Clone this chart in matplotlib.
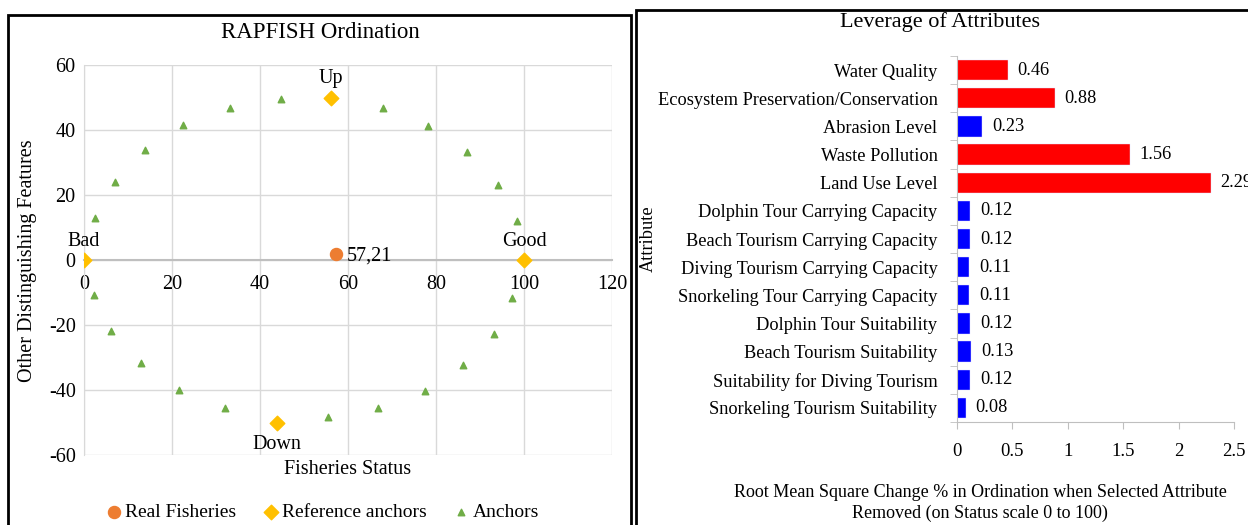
import matplotlib
matplotlib.use("Agg")
import matplotlib.pyplot as plt
from matplotlib.patches import Rectangle

plt.rcParams['font.family'] = ['Liberation Serif', 'DejaVu Serif']

# ordination data
anchor_x = [2.5, 7.0, 13.8, 22.6, 33.1, 44.7, 67.9, 78.2, 87.1, 94.0, 98.3,
            97.3, 93.1, 86.2, 77.4, 66.8, 55.4, 32.0, 21.7, 13.0, 6.2, 2.2]
anchor_y = [12.8, 24.0, 33.7, 41.6, 46.9, 49.6, 46.7, 41.2, 33.2, 23.1, 12.0,
            -11.8, -22.7, -32.4, -40.3, -45.6, -48.4, -45.4, -40.0, -31.8, -21.9, -10.8]
ref_x = [0, 100, 56.2, 43.8]
ref_y = [0, 0, 50, -50]
ref_names = ["Bad", "Good", "Up", "Down"]
real_x = [57.21]
real_y = [2.0]
real_label = "57,21"

# leverage data
attributes = ["Water Quality", "Ecosystem Preservation/Conservation", "Abrasion Level",
              "Waste Pollution", "Land Use Level", "Dolphin Tour Carrying Capacity",
              "Beach Tourism Carrying Capacity", "Diving Tourism Carrying Capacity",
              "Snorkeling Tour Carrying Capacity", "Dolphin Tour Suitability",
              "Beach Tourism Suitability", "Suitability for Diving Tourism",
              "Snorkeling Tourism Suitability"]
leverage = [0.46, 0.88, 0.23, 1.56, 2.29, 0.12, 0.12, 0.11, 0.11, 0.12, 0.13, 0.12, 0.08]
sensitive = [True, True, False, True, True, False, False, False, False, False, False, False, False]

fig = plt.figure(figsize=(12.48, 5.25), dpi=100)

# panel frames
fig.add_artist(Rectangle((8/1248, -0.02), 623/1248, 1.02 - 15/525, transform=fig.transFigure,
                         fill=False, edgecolor='black', linewidth=2))
fig.add_artist(Rectangle((636/1248, -0.02), 0.6, 1.02 - 10/525, transform=fig.transFigure,
                         fill=False, edgecolor='black', linewidth=2))

##left: ordination##
ax1 = fig.add_axes([84/1248, 1-455/525, 528/1248, 390/525])
ax1.scatter(real_x, real_y, s=75, c='#ED7D31', marker='o', label='Real Fisheries', zorder=4)
ax1.scatter(ref_x, ref_y, s=55, c='#FFC000', marker='D', label='Reference anchors', zorder=4)
ax1.scatter(anchor_x, anchor_y, s=22, c='#70AD47', marker='^', label='Anchors', zorder=4)
ax1.set_xlim(0, 120)
ax1.set_ylim(-60, 60)
ax1.set_xticks(range(0, 121, 20))
ax1.set_yticks(range(-60, 61, 20))
ax1.set_yticklabels([str(v) for v in range(-60, 61, 20)])
ax1.grid(True, color='#D9D9D9', linewidth=1)
ax1.set_axisbelow(True)
for s in ['top', 'right']:
    ax1.spines[s].set_visible(False)
ax1.spines['bottom'].set_position(('data', 0))
ax1.spines['bottom'].set_color('#BFBFBF')
ax1.spines['bottom'].set_linewidth(1.5)
ax1.spines['left'].set_color('#D9D9D9')
ax1.tick_params(length=0, labelsize=14.5, pad=6)
ax1.tick_params(axis='x', pad=11)
fig.text(320/1248, 1-32/525, "RAPFISH Ordination", fontsize=16.5, ha='center', va='center')
fig.text(348/1248, 1-469/525, "Fisheries Status", fontsize=14.5, ha='center', va='center')
fig.text(28/1248, 1-261/525, "Other Distinguishing Features", fontsize=14.5, rotation=90,
         ha='center', va='center')
ax1.annotate(real_label, (real_x[0], real_y[0]), xytext=(8, -2), textcoords='offset points',
             fontsize=14.5, va='center', ha='left')
label_off = {"Bad": (0, 13), "Good": (0, 13), "Up": (0, 14), "Down": (0, -16)}
for nx, ny, nm in zip(ref_x, ref_y, ref_names):
    ax1.annotate(nm, (nx, ny), xytext=label_off[nm], textcoords='offset points',
                 fontsize=14.5, ha='center', va='center')
fig.legend(*ax1.get_legend_handles_labels(), loc='center', bbox_to_anchor=(323/1248, 1-512/525),
           ncol=3, frameon=False, fontsize=14, handlelength=0.7, handletextpad=0.25,
           columnspacing=1.4, borderpad=0, borderaxespad=0)

##right: leverage##
ax2 = fig.add_axes([957/1248, 1-422/525, 277/1248, 366/525])
ypos = list(range(len(attributes)))
cols = ['#FF0000' if s else '#0000FF' for s in sensitive]
ax2.barh(ypos, leverage, height=0.72, color=cols, edgecolor='#E0E0FF', linewidth=0.3)
ax2.set_ylim(len(attributes) - 0.5, -0.5)
ax2.set_xlim(0, 2.5)
ax2.set_yticks(ypos)
ax2.set_yticklabels(attributes, fontsize=13.2)
ax2.set_yticks([i - 0.5 for i in range(len(attributes) + 1)], minor=True)
ax2.tick_params(axis='y', which='major', length=0, pad=14)
ax2.tick_params(axis='y', which='minor', length=5, color='#BFBFBF')
ax2.set_xticks([0, 0.5, 1, 1.5, 2, 2.5])
ax2.set_xticklabels(['0', '0.5', '1', '1.5', '2', '2.5'], fontsize=13.5)
ax2.tick_params(axis='x', length=5, color='#BFBFBF', pad=10)
for s in ['top', 'right']:
    ax2.spines[s].set_visible(False)
ax2.spines['left'].set_color('#BFBFBF')
ax2.spines['bottom'].set_color('#BFBFBF')
for yy, v in zip(ypos, leverage):
    ax2.annotate("%.2f" % v, (v, yy), xytext=(7, 0), textcoords='offset points',
                 fontsize=13.2, va='center', ha='left', annotation_clip=False)
fig.text(940/1248, 1-22/525, "Leverage of Attributes", fontsize=16, ha='center', va='center')
fig.text(980/1248, 1-503/525,
         "Root Mean Square Change % in Ordination when Selected Attribute\nRemoved (on Status scale 0 to 100)",
         fontsize=13, ha='center', va='center', linespacing=1.25)
fig.text(648/1248, 1-239/525, "Attribute", rotation=90, fontsize=13.2, ha='center', va='center')

fig.savefig("out.png", dpi=100)
